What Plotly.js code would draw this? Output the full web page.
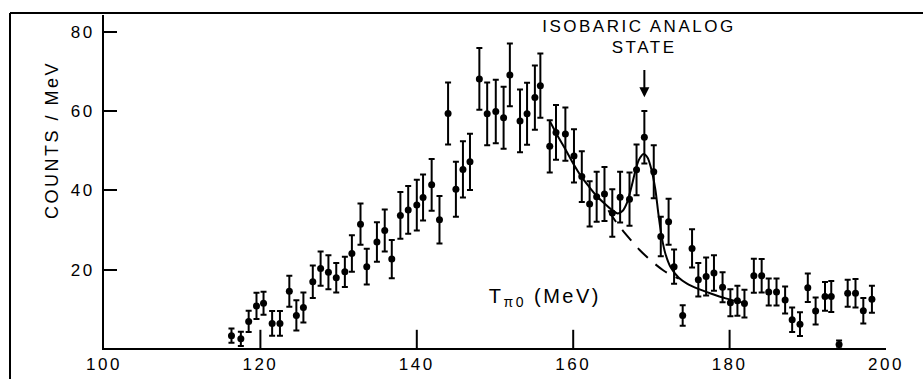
<!DOCTYPE html>
<html>
<head>
<meta charset="utf-8">
<script src="https://cdn.plot.ly/plotly-3.0.1.min.js"></script>
<style>
  html, body { margin: 0; padding: 0; background: #fff; }
  .main-svg text { letter-spacing: 2.5px; }
</style>
</head>
<body>
<div id="chart" style="width:923px;height:379px;"></div>
<script>
// Measured spectrum: pion kinetic energy (MeV), counts/MeV, statistical error
const energy = [116.3,117.5,118.5,119.5,120.4,121.5,122.5,123.7,124.6,125.5,126.7,127.7,128.7,129.7,130.8,131.7,132.8,133.6,134.9,135.9,136.8,137.9,138.9,140.0,140.8,141.9,142.9,144.0,145.0,145.9,146.8,148.0,149.0,150.1,151.1,151.9,153.2,154.1,155.1,155.8,157.0,157.8,159.0,160.1,161.1,162.1,163.0,164.0,165.0,166.0,167.2,168.1,169.1,170.3,171.2,172.2,172.9,174.0,175.2,176.0,177.0,178.0,179.1,180.1,181.0,181.9,183.1,184.1,185.0,186.0,187.1,188.0,189.0,190.0,191.0,192.2,193.0,194.0,195.1,196.1,197.1,198.2];
const counts = [3.4,2.6,7.0,10.9,11.6,6.5,6.5,14.6,8.5,10.5,17.0,20.3,19.4,18.0,19.5,24.1,31.5,20.8,27.0,29.9,22.7,33.7,35.1,36.3,38.2,41.4,32.6,59.4,40.3,45.3,47.2,68.1,59.3,59.9,58.3,69.1,57.5,59.3,63.4,66.4,51.1,54.6,54.2,48.7,43.5,36.6,38.4,39.1,34.3,38.3,37.8,45.2,53.4,44.7,28.4,32.1,20.8,8.5,25.4,17.5,18.3,19.2,15.6,11.7,12.2,11.5,18.5,18.5,14.4,14.4,12.4,7.4,6.3,15.5,9.6,13.3,13.3,1.2,14.1,14.1,9.7,12.6];
const errors = [1.8,1.8,2.7,3.3,2.9,3.1,3.1,3.9,3.8,3.8,4.1,4.3,4.3,3.7,3.8,4.6,5.2,4.5,5.0,5.3,4.8,5.9,6.0,6.4,5.8,6.5,6.0,7.8,6.9,7.1,7.1,7.8,7.9,8.0,7.8,7.9,7.9,7.8,8.1,8.1,6.6,6.9,6.7,6.7,6.4,5.7,6.3,6.8,6.0,6.4,6.7,6.4,6.6,6.7,5.0,5.8,4.3,2.6,4.8,4.2,4.8,4.5,3.8,3.4,3.8,3.5,4.3,4.2,3.4,3.4,3.4,3.1,3.0,3.6,3.4,3.6,3.9,1.0,3.4,3.6,3.2,3.4];

// Fitted curve (background + isobaric analog state peak)
const fitX = [157.0,158.0,159.0,160.0,161.0,162.0,163.0,164.0,165.0,165.7,166.3,166.9,167.4,167.9,168.4,169.0,169.5,170.0,170.5,170.9,171.3,171.8,172.5,173.5,174.5,176.0,177.5,179.5,182.0];
const fitY = [57.5,53.8,50.4,46.8,43.6,41.0,38.6,36.7,35.0,34.2,34.8,37.0,40.5,44.5,47.7,49.2,48.3,45.3,40.3,34.0,28.5,24.0,20.5,18.0,16.6,15.2,14.1,12.8,11.6];

// Background under the peak (dashed)
const bgX = [164.5,165.5,166.5,167.5,168.5,169.5,170.5,171.5,172.5,173.5];
const bgY = [35.0,32.0,29.5,27.2,25.0,23.1,21.4,19.9,18.7,17.8];

const xTicks = [100,120,140,160,180,200];
const xInnerTicks = [120,140,160,180];
const yTicks = [20,40,60,80];
const yRange = [0.3, 84.2];

const FONT = 'Liberation Sans, Arial, sans-serif';

const traces = [
  {
    x: energy, y: counts, type: 'scatter', mode: 'markers',
    marker: {color: 'black', size: 7},
    error_y: {type: 'data', array: errors, visible: true, color: 'black', thickness: 2, width: 3},
    hoverinfo: 'skip'
  },
  {
    x: fitX, y: fitY, type: 'scatter', mode: 'lines',
    line: {color: 'black', width: 2, shape: 'spline', smoothing: 0.8},
    hoverinfo: 'skip'
  },
  {
    x: bgX, y: bgY, type: 'scatter', mode: 'lines',
    line: {color: 'black', width: 2, dash: '14px,10px', shape: 'spline'},
    hoverinfo: 'skip'
  },
  // inward tick marks on the energy axis (lower half clipped by the plot area)
  {
    x: xInnerTicks, y: xInnerTicks.map(() => yRange[0]), type: 'scatter', mode: 'markers',
    marker: {symbol: 'line-ns', size: 26, color: 'black', line: {color: 'black', width: 2}},
    cliponaxis: true, hoverinfo: 'skip'
  }
];

const layout = {
  width: 923, height: 379,
  margin: {l: 104, r: 37, t: 15, b: 31, pad: 0},
  paper_bgcolor: 'white', plot_bgcolor: 'white',
  showlegend: false,
  font: {family: FONT, color: 'black', size: 17},
  xaxis: {
    range: [100, 200], tickmode: 'array', tickvals: xTicks, ticktext: xTicks.map(String),
    ticks: '', showgrid: false, zeroline: false,
    showline: true, linecolor: 'black', linewidth: 2,
    tickfont: {family: FONT, size: 17, color: 'black'}
  },
  yaxis: {
    range: yRange, tickmode: 'array', tickvals: yTicks, ticktext: yTicks.map(String),
    ticks: 'inside', ticklen: 13, tickwidth: 2, tickcolor: 'black',
    showgrid: false, zeroline: false,
    showline: true, linecolor: 'black', linewidth: 2,
    tickfont: {family: FONT, size: 17, color: 'black'},
    ticklabelstandoff: 4
  },
  shapes: [
    {type: 'line', xref: 'paper', yref: 'paper', x0: -0.1202, x1: -0.1202, y0: 1.006, y1: -0.1,
     line: {color: 'black', width: 2}},
    {type: 'line', xref: 'paper', yref: 'paper', x0: -0.1202, x1: 1.05, y0: 1.006, y1: 1.006,
     line: {color: 'black', width: 2}}
  ],
  annotations: [
    {text: 'ISOBARIC ANALOG', xref: 'x', yref: 'paper', x: 168.4, y: 0.964,
     xanchor: 'center', yanchor: 'middle', showarrow: false, font: {family: FONT, size: 17}},
    {text: 'STATE', xref: 'x', yref: 'paper', x: 169.05, y: 0.902,
     xanchor: 'center', yanchor: 'middle', showarrow: false, font: {family: FONT, size: 17}},
    {text: ' ', xref: 'x', yref: 'y', x: 169.1, y: 63.5, axref: 'x', ayref: 'y', ax: 169.1, ay: 70.6,
     showarrow: true, arrowhead: 2, arrowsize: 1, arrowwidth: 2, arrowcolor: 'black', standoff: 0,
     font: {size: 1}, borderpad: 0},
    {text: 'T<sub>π0</sub> (MeV)', xref: 'x', yref: 'paper', x: 156.4, y: 0.153,
     xanchor: 'center', yanchor: 'middle', showarrow: false, font: {family: FONT, size: 20}},
    {text: 'COUNTS / MeV', xref: 'paper', yref: 'paper', x: -0.0665, y: 0.6246,
     xanchor: 'center', yanchor: 'middle', textangle: -90, showarrow: false,
     font: {family: FONT, size: 18}}
  ]
};

Plotly.newPlot('chart', traces, layout, {staticPlot: true, displayModeBar: false});
</script>
</body>
</html>
